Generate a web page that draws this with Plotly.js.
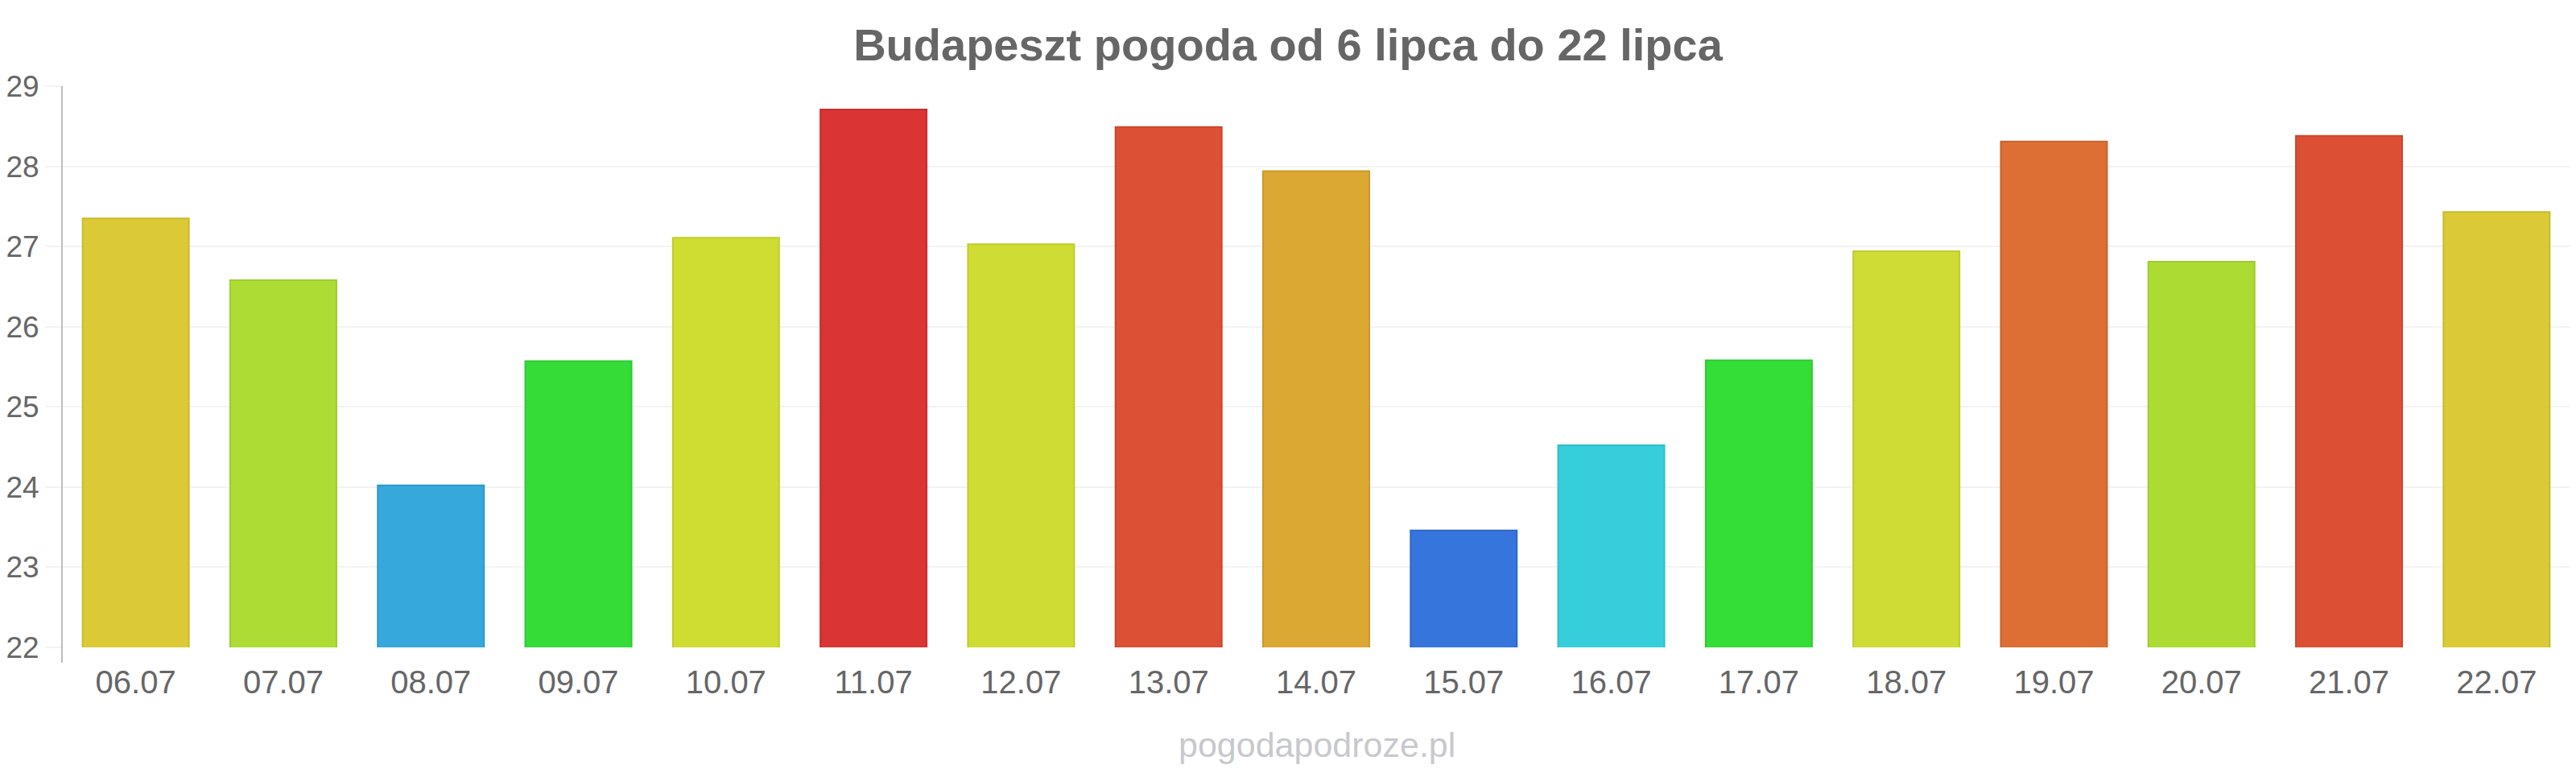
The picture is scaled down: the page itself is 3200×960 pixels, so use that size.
<!DOCTYPE html>
<html>
<head>
<meta charset="utf-8">
<script src="https://cdn.plot.ly/plotly-3.0.1.min.js"></script>
<style>html,body{margin:0;padding:0;background:#fff;}#chart{width:3200px;height:960px;}</style>
</head>
<body>
<div id="chart"></div>
<script>
const days = ["06.07","07.07","08.07","09.07","10.07","11.07","12.07","13.07","14.07","15.07","16.07","17.07","18.07","19.07","20.07","21.07","22.07"];
const temps = [27.35, 26.58, 24.02, 25.57, 27.11, 28.71, 27.03, 28.49, 27.94, 23.46, 24.52, 25.58, 26.94, 28.31, 26.81, 28.38, 27.43];
const fillColors = ["#dbca35","#addd35","#36a8dc","#35dc38","#cfdd33","#da3435","#cfdc33","#dc5035","#dca834","#3676dc","#37cedb","#35dd37","#cfdc35","#dd6f34","#acdc33","#dc4f35","#dbca35"];
const lineColors = ["#cbba2c","#9ecd2c","#2e98cb","#2ccb30","#bfcd2b","#c92c2d","#bfcc2b","#cb452d","#cb982c","#2e67cb","#2fbecb","#2ccc2f","#bfcc2c","#cc622c","#9ccc2b","#cb442d","#cbba2c"];
const titleText = "Budapeszt pogoda od 6 lipca do 22 lipca";
const watermark = "pogodapodroze.pl";
const yTicks = [22, 23, 24, 25, 26, 27, 28, 29];

const FONT = '"Liberation Sans", Arial, sans-serif';

const trace = {
  type: 'bar',
  x: days,
  y: temps,
  base: 0,
  marker: { color: fillColors, line: { color: lineColors, width: 2 } },
  hoverinfo: 'x+y'
};

const layout = {
  width: 3200,
  height: 960,
  margin: { l: 77, r: 7, t: 107, b: 156, pad: 0 },
  paper_bgcolor: '#ffffff',
  plot_bgcolor: '#ffffff',
  showlegend: false,
  bargap: 0.28,
  title: {
    text: '<b>' + titleText + '</b>',
    font: { family: FONT, size: 56, color: '#666666' },
    x: 0.5, xanchor: 'center',
    yref: 'container', y: 1 - 55/960, yanchor: 'middle'
  },
  xaxis: {
    type: 'category',
    showgrid: false, zeroline: false, showline: false,
    ticks: '',
    tickfont: { family: FONT, size: 40, color: '#666666' },
    ticklabelstandoff: 16,
    fixedrange: true
  },
  yaxis: {
    range: [22, 29],
    tickvals: yTicks,
    ticktext: yTicks.map(String),
    showgrid: true, gridcolor: '#f3f3f3', gridwidth: 2,
    zeroline: false, showline: false,
    ticks: 'outside', ticklen: 20, tickcolor: '#f3f3f3', tickwidth: 2,
    tickfont: { family: FONT, size: 37, color: '#666666' },
    ticklabelstandoff: 0,
    fixedrange: true
  },
  shapes: [{
    type: 'line', xref: 'paper', yref: 'paper',
    x0: 0, x1: 0, y0: -19/697, y1: 1,
    line: { color: '#bdbdbd', width: 2 }
  }],
  annotations: [{
    text: watermark, showarrow: false,
    xref: 'paper', yref: 'paper',
    x: (1636 - 77) / 3116, xanchor: 'center',
    y: -(925 - 804) / 697, yanchor: 'middle',
    font: { family: FONT, size: 43, color: '#c8c8cd' }
  }]
};

Plotly.newPlot('chart', [trace], layout, { displayModeBar: false, staticPlot: true });
</script>
</body>
</html>
